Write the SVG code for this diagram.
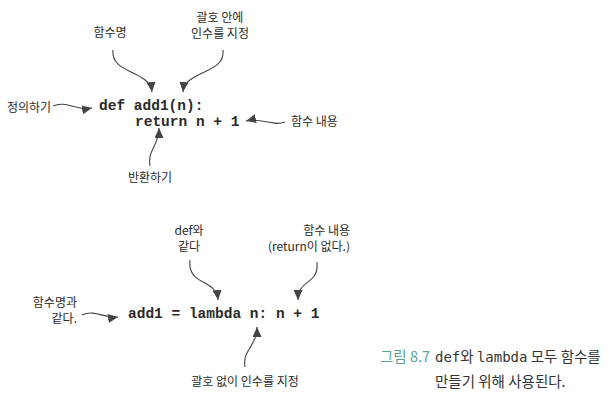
<svg xmlns="http://www.w3.org/2000/svg" width="613" height="401" viewBox="0 0 613 401">
<style>
.lbl{font-family:"Noto Sans CJK KR","Noto Sans",sans-serif;font-size:12px;fill:#2a2a2a}
.code{font-family:"Liberation Mono","Courier New",monospace;font-size:14.5px;font-weight:bold;fill:#2a2a2a}
.cap{font-family:"Noto Sans CJK KR","Noto Sans",sans-serif;font-size:14.5px;fill:#333}
.capm{font-family:"DejaVu Sans Mono",monospace;font-size:14px}
.arr{fill:none;stroke:#444;stroke-width:1.1;marker-end:url(#ah)}
</style>
<defs>
<marker id="ah" markerUnits="userSpaceOnUse" markerWidth="10" markerHeight="9" refX="10" refY="4.5" orient="auto">
<path d="M0,0 L10,4.5 L0,9 z" fill="#444"/>
</marker>
</defs>
<rect width="613" height="401" fill="#fff"/>
<g id="code-def">
<text class="code" x="99" y="110" xml:space="preserve">def add1(n):</text>
<text class="code" x="135" y="126" xml:space="preserve">return n + 1</text>
</g>
<g id="code-lambda">
<text class="code" x="128" y="318" xml:space="preserve">add1 = lambda n: n + 1</text>
</g>
<g id="lbl-funcname"><text class="lbl" x="110" y="37" text-anchor="middle">함수명</text></g>
<g id="lbl-paren"><text class="lbl" x="220" y="22" text-anchor="middle">괄호 안에</text><text class="lbl" x="220" y="38" text-anchor="middle">인수를 지정</text></g>
<g id="lbl-define"><text class="lbl" x="7" y="112">정의하기</text></g>
<g id="lbl-body"><text class="lbl" x="291" y="126">함수 내용</text></g>
<g id="lbl-return"><text class="lbl" x="150" y="182" text-anchor="middle">반환하기</text></g>
<g id="lbl-samedef"><text class="lbl" x="189" y="235" text-anchor="middle">def와</text><text class="lbl" x="189" y="251" text-anchor="middle">같다</text></g>
<g id="lbl-body2"><text class="lbl" x="350" y="235" text-anchor="end">함수 내용</text><text class="lbl" x="350" y="251" text-anchor="end">(return이 없다.)</text></g>
<g id="lbl-samename"><text class="lbl" x="77" y="307" text-anchor="end">함수명과</text><text class="lbl" x="77" y="323" text-anchor="end">같다.</text></g>
<g id="lbl-noparen"><text class="lbl" x="245" y="386" text-anchor="middle">괄호 없이 인수를 지정</text></g>
<g id="connectors">
<path class="arr" d="M113,50 C110,74 150,70 152,92"/>
<path class="arr" d="M223,50 C226,74 185,70 183,92"/>
<path class="arr" d="M53,106 C66,100 76,111 92,108"/>
<path class="arr" d="M285,122 C272,127 262,117 246,121"/>
<path class="arr" d="M150,166 C147,150 159,146 159,128"/>
<path class="arr" d="M190,260 C187,286 216,278 218,300"/>
<path class="arr" d="M317,262 C319,286 298,278 298,300"/>
<path class="arr" d="M82,315 C95,309 105,319 118,317"/>
<path class="arr" d="M245,367 C242,350 257,346 257,327"/>
</g>
<g id="caption">
<text class="cap" x="380" y="362"><tspan fill="#5aa393">그림 8.7</tspan></text>
<text class="cap" x="435" y="362"><tspan class="capm">def</tspan>와 <tspan class="capm">lambda</tspan> 모두 함수를</text>
<text class="cap" x="435" y="387">만들기 위해 사용된다.</text>
</g>
</svg>
